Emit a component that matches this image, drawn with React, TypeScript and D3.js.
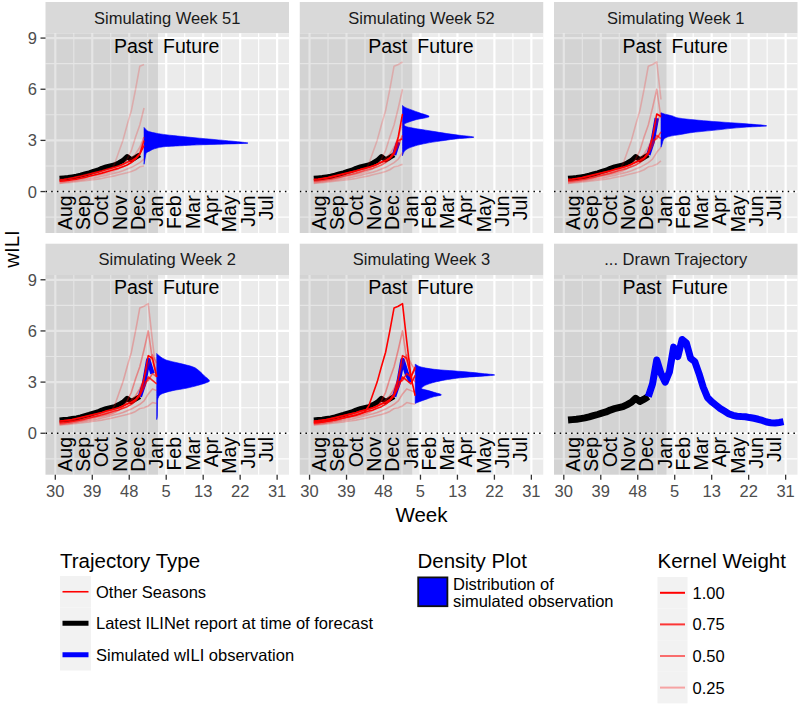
import React from "react";
import * as d3 from "d3";

const FONT = "'Liberation Sans', Arial, Helvetica, sans-serif";

// ---------------- data ----------------
const panelTitles = [
  "Simulating Week 51",
  "Simulating Week 52",
  "Simulating Week 1",
  "Simulating Week 2",
  "Simulating Week 3",
  "... Drawn Trajectory",
];
// season-week index (week 30 = 0) of the simulated week in each panel
const simulatedWeekIdx = [21, 22, 23, 24, 25];
const pastFutureSplit = 24.3;

const weekTickPositions = [0, 8.75, 17.5, 26.25, 35, 43.75, 52.5];
const weekTickLabels = ["30", "39", "48", "5", "13", "22", "31"];
const yTickValues = [0, 3, 6, 9];
const yMinorValues = [-1.5, 1.5, 4.5, 7.5];
const monthLabels = ["Aug", "Sep", "Oct", "Nov", "Dec", "Jan", "Feb", "Mar", "Apr", "May", "Jun", "Jul"];
const monthPositions = [2.2, 6.5, 10.9, 15.2, 19.5, 23.9, 28.2, 32.5, 36.8, 41.2, 45.5, 49.8];

// latest ILINet report (season-week idx 1..20)
const ilinetStartIdx = 1;
const ilinetValues = [0.78, 0.8, 0.82, 0.86, 0.9, 0.96, 1.03, 1.1, 1.18, 1.25, 1.36, 1.44, 1.5, 1.56, 1.68, 1.82, 2.05, 1.86, 2.0, 2.15];

// drawn (simulated) trajectory, idx 20..52
const trajectoryStartIdx = 20;
const trajectoryValues = [2.15, 2.9, 4.3, 3.5, 3.0, 3.6, 5.05, 4.5, 5.5, 5.3, 4.4, 4.2, 3.5, 2.7, 2.1, 1.85, 1.65, 1.45, 1.3, 1.15, 1.05, 1.0, 0.98, 0.97, 0.92, 0.88, 0.82, 0.75, 0.66, 0.62, 0.6, 0.63, 0.68];

// other seasons, idx 1..25
const seasonStartIdx = 1;
const season1 = [0.62, 0.64, 0.66, 0.7, 0.74, 0.78, 0.84, 0.9, 0.95, 1.0, 1.06, 1.14, 1.24, 1.6, 2.3, 3.0, 3.9, 4.75, 6.0, 7.35, 7.45, 7.6, 5.4, 3.3, 2.2];
const season2 = [0.55, 0.58, 0.6, 0.64, 0.68, 0.72, 0.78, 0.84, 0.9, 0.95, 1.0, 1.06, 1.12, 1.22, 1.35, 1.55, 1.9, 2.4, 3.2, 3.9, 4.9, 6.0, 4.3, 3.4, 3.0];
const season3 = [0.72, 0.74, 0.77, 0.8, 0.86, 0.92, 0.98, 1.04, 1.1, 1.16, 1.22, 1.3, 1.36, 1.42, 1.5, 1.6, 1.72, 1.82, 1.98, 2.3, 3.2, 4.55, 4.4, 3.3, 3.9];
const season4 = [0.6, 0.62, 0.65, 0.69, 0.73, 0.78, 0.83, 0.9, 0.96, 1.02, 1.08, 1.15, 1.22, 1.3, 1.36, 1.46, 1.56, 1.7, 1.9, 2.2, 2.7, 3.3, 3.1, 2.9, 3.4];
const season5 = [0.5, 0.53, 0.56, 0.6, 0.63, 0.67, 0.71, 0.75, 0.8, 0.84, 0.9, 0.95, 1.02, 1.08, 1.14, 1.22, 1.32, 1.42, 1.55, 1.7, 1.9, 2.3, 2.6, 2.5, 2.4];
const season6 = [0.48, 0.5, 0.52, 0.55, 0.58, 0.6, 0.63, 0.66, 0.7, 0.73, 0.77, 0.82, 0.87, 0.92, 0.98, 1.04, 1.1, 1.18, 1.28, 1.45, 1.5, 1.6, 1.8, 1.75, 1.7];
const season7 = [0.68, 0.71, 0.75, 0.8, 0.85, 0.9, 0.96, 1.02, 1.08, 1.14, 1.2, 1.28, 1.35, 1.42, 1.5, 1.6, 1.72, 1.8, 1.95, 2.2, 3.0, 3.1, 3.5, 3.3, 3.8];
const season8 = [0.64, 0.67, 0.7, 0.74, 0.78, 0.84, 0.9, 0.96, 1.02, 1.1, 1.16, 1.22, 1.3, 1.38, 1.48, 1.6, 1.76, 1.94, 2.2, 2.6, 3.2, 4.0, 4.6, 4.1, 3.7];
const otherSeasons = [season1, season2, season3, season4, season5, season6, season7, season8];

// kernel weights of each season per panel
const weightsWeek51 = [0.1, 0.12, 0.2, 1.0, 0.15, 0.12, 0.9, 0.15];
const weightsWeek52 = [0.1, 0.12, 1.0, 0.5, 0.15, 0.12, 0.8, 0.2];
const weightsWeek1 = [0.12, 0.2, 1.0, 0.6, 0.15, 0.12, 0.6, 0.2];
const weightsWeek2 = [0.15, 0.3, 1.0, 0.8, 0.2, 0.15, 0.5, 0.3];
const weightsWeek3 = [1.0, 0.3, 0.9, 0.9, 0.2, 0.15, 0.8, 0.3];
const kernelWeights = [weightsWeek51, weightsWeek52, weightsWeek1, weightsWeek2, weightsWeek3];

// density of the simulated observation (wILI value, density in weeks of width)
const density51Y = [1.6, 2.0, 2.25, 2.4, 2.54, 2.64, 2.69, 2.74, 2.79, 2.84, 2.9, 3.0, 3.13, 3.23, 3.33, 3.42, 3.5, 3.6, 3.68, 3.76];
const density51W = [0, 0.3, 0.5, 1.5, 2.9, 5.2, 9, 13.1, 20, 24.6, 23, 19, 13.1, 9, 5.2, 2.9, 1.4, 0.6, 0.3, 0];
const density52Y = [2.1, 2.3, 2.45, 2.64, 2.8, 2.93, 3.0, 3.1, 3.19, 3.3, 3.4, 3.5, 3.6, 3.7, 3.8, 3.9, 3.97, 4.05, 4.2, 4.4, 4.6, 4.8, 4.95, 5.05];
const density52W = [0, 0.3, 0.8, 2.5, 5, 8, 10, 13, 16.9, 13.5, 10.5, 8, 5.5, 3, 1.0, 0.4, 0.5, 1.2, 3.0, 6.3, 4.2, 2.0, 0.5, 0];
const density1Y = [2.6, 2.8, 3.04, 3.24, 3.34, 3.45, 3.59, 3.78, 3.85, 3.97, 4.11, 4.3, 4.45, 4.55, 4.62];
const density1W = [0, 0.3, 0.6, 2.1, 4.5, 7, 12.4, 20.3, 25, 20.3, 12.4, 4.5, 2.5, 0.8, 0];
const density2Y = [0.8, 1.0, 1.9, 2.16, 2.33, 2.5, 2.64, 2.8, 2.95, 3.06, 3.15, 3.36, 3.65, 3.9, 4.1, 4.3, 4.4, 4.5, 4.6, 4.68];
const density2W = [0, 0.15, 0.2, 0.5, 1.4, 3.8, 7, 9.6, 11.6, 12.5, 12.3, 11.3, 10.1, 8.5, 5.4, 2.2, 1.4, 0.8, 0.3, 0];
const density3Y = [1.75, 1.85, 2.0, 2.15, 2.25, 2.4, 2.53, 2.62, 2.74, 2.9, 3.02, 3.1, 3.2, 3.3, 3.35, 3.42, 3.5, 3.6, 3.75, 3.85, 3.9, 3.98, 4.05];
const density3W = [0, 1.0, 2.7, 4.5, 6.2, 4.5, 2.7, 1.5, 1.9, 3.3, 5, 6.5, 9, 12.9, 16, 18.8, 16, 12, 4.5, 2.0, 1.2, 0.5, 0];
const densityYs = [density51Y, density52Y, density1Y, density2Y, density3Y];
const densityWs = [density51W, density52W, density1W, density2W, density3W];

const kernelLegendValues = [1.0, 0.75, 0.5, 0.25];
const kernelLegendLabels = ["1.00", "0.75", "0.50", "0.25"];

// ---------------- layout ----------------
const PANEL_W = 243.5;
const PANEL_H = 199.7;
const STRIP_H = 31.3;
const PANEL_LEFT = 45.5;
const COL_STEP = 254.25;
const ROW_TOP = [2, 243.7];
const X_DOMAIN = [-2.32, 55.31];
const Y_DOMAIN = [-2.43, 9.28];

const alphaOf = (w: number) => 0.1 + 0.9 * w;

type Pt = [number, number];
const toPoints = (start: number, vals: number[], upto?: number): Pt[] => {
  const pts: Pt[] = vals.map((v, i) => [start + i, v] as Pt);
  return upto === undefined ? pts : pts.filter((p) => p[0] <= upto);
};

export default function App() {
  const xs = d3.scaleLinear().domain(X_DOMAIN).range([0, PANEL_W]);
  const ys = d3.scaleLinear().domain(Y_DOMAIN).range([PANEL_H, 0]);
  const line = d3
    .line<Pt>()
    .x((d) => xs(d[0]))
    .y((d) => ys(d[1]));

  const xMinor = weekTickPositions.slice(1).map((p, i) => (p + weekTickPositions[i]) / 2);
  const rightEdge = PANEL_LEFT + 2 * COL_STEP + PANEL_W;

  const panels = panelTitles.map((title, p) => {
    const col = p % 3;
    const row = Math.floor(p / 3);
    const left = PANEL_LEFT + col * COL_STEP;
    const stripTop = ROW_TOP[row];
    const top = stripTop + STRIP_H;
    const isTraj = p === 5;
    const sim = isTraj ? null : simulatedWeekIdx[p];

    let densityPath: string | null = null;
    if (sim !== null) {
      const dys = densityYs[p];
      const dws = densityWs[p];
      const pts = dys.map((y, i) => ({ y, w: dws[i] }));
      const area = d3
        .area<{ y: number; w: number }>()
        .y((d) => ys(d.y))
        .x0(xs(sim))
        .x1((d) => xs(sim + d.w))
        .curve(d3.curveMonotoneY);
      densityPath = area(pts);
    }

    const seasonOrder = sim === null ? [] : d3.range(otherSeasons.length).sort((a, b) => kernelWeights[p][a] - kernelWeights[p][b]);

    const blueUpto = sim === null ? 52 : sim - 1;
    const bluePts = toPoints(trajectoryStartIdx, trajectoryValues, blueUpto);

    return (
      <g key={p}>
        {/* strip */}
        <rect x={left} y={stripTop} width={PANEL_W} height={STRIP_H} fill="#D9D9D9" />
        <text x={left + PANEL_W / 2} y={stripTop + STRIP_H / 2 + 6} textAnchor="middle" fontSize={16.5} fill="#1A1A1A" fontFamily={FONT}>
          {title}
        </text>
        <g transform={`translate(${left},${top})`}>
          <clipPath id={`clip${p}`}>
            <rect x={0} y={0} width={PANEL_W} height={PANEL_H} />
          </clipPath>
          <rect x={0} y={0} width={PANEL_W} height={PANEL_H} fill="#EBEBEB" />
          {yMinorValues.map((v) => (
            <line key={"ym" + v} x1={0} x2={PANEL_W} y1={ys(v)} y2={ys(v)} stroke="#fff" strokeWidth={1.1} />
          ))}
          {xMinor.map((v) => (
            <line key={"xm" + v} y1={0} y2={PANEL_H} x1={xs(v)} x2={xs(v)} stroke="#fff" strokeWidth={1.1} />
          ))}
          {yTickValues.map((v) => (
            <line key={"yM" + v} x1={0} x2={PANEL_W} y1={ys(v)} y2={ys(v)} stroke="#fff" strokeWidth={2.2} />
          ))}
          {weekTickPositions.map((v) => (
            <line key={"xM" + v} y1={0} y2={PANEL_H} x1={xs(v)} x2={xs(v)} stroke="#fff" strokeWidth={2.2} />
          ))}
          <rect x={0} y={0} width={xs(pastFutureSplit)} height={PANEL_H} fill="#000" fillOpacity={0.1} />
          <g clipPath={`url(#clip${p})`}>
            {monthLabels.map((m, i) => (
              <text
                key={m}
                transform={`translate(${xs(monthPositions[i])},${ys(-0.22)}) rotate(-90)`}
                textAnchor="end"
                dominantBaseline="central"
                fontSize={19.5}
                fill="#000"
                fontFamily={FONT}
              >
                {m}
              </text>
            ))}
            <line x1={0} x2={PANEL_W} y1={ys(0)} y2={ys(0)} stroke="#000" strokeWidth={1.5} strokeDasharray="1.5 4.2" />
            <path
              d={line(toPoints(ilinetStartIdx, ilinetValues)) || ""}
              fill="none"
              stroke="#000"
              strokeWidth={isTraj ? 7 : 5}
              strokeLinejoin="round"
            />
            {bluePts.length > 1 && (
              <path d={line(bluePts) || ""} fill="none" stroke="#0000FF" strokeWidth={isTraj ? 7 : 4.5} strokeLinejoin="round" />
            )}
            {densityPath && <path d={densityPath} fill="#0000FF" stroke="#0000FF" strokeWidth={0.6} />}
            {sim !== null &&
              seasonOrder.map((s) => (
                <path
                  key={"s" + s}
                  d={line(toPoints(seasonStartIdx, otherSeasons[s], sim)) || ""}
                  fill="none"
                  stroke="#FF0000"
                  strokeOpacity={alphaOf(kernelWeights[p][s])}
                  strokeWidth={1.6}
                  strokeLinejoin="round"
                />
              ))}
            <text x={xs(pastFutureSplit) - 5} y={ys(9) + 14.5} textAnchor="end" fontSize={19.5} fill="#000" fontFamily={FONT}>
              Past
            </text>
            <text x={xs(pastFutureSplit) + 5} y={ys(9) + 14.5} textAnchor="start" fontSize={19.5} fill="#000" fontFamily={FONT}>
              Future
            </text>
          </g>
          {/* y axis */}
          {col === 0 &&
            yTickValues.map((v) => (
              <g key={"yt" + v}>
                <line x1={-5} x2={0} y1={ys(v)} y2={ys(v)} stroke="#333" strokeWidth={1.3} />
                <text x={-8.5} y={ys(v) + 6} textAnchor="end" fontSize={16.5} fill="#4D4D4D" fontFamily={FONT}>
                  {v}
                </text>
              </g>
            ))}
          {/* x axis */}
          {row === 1 &&
            weekTickPositions.map((v, i) => (
              <g key={"xt" + i}>
                <line x1={xs(v)} x2={xs(v)} y1={PANEL_H} y2={PANEL_H + 5} stroke="#333" strokeWidth={1.3} />
                <text x={xs(v)} y={PANEL_H + 21.8} textAnchor="middle" fontSize={16.5} fill="#4D4D4D" fontFamily={FONT}>
                  {weekTickLabels[i]}
                </text>
              </g>
            ))}
        </g>
      </g>
    );
  });

  const trajKeys = [
    { label: "Other Seasons", color: "#FF0000", width: 1.6 },
    { label: "Latest ILINet report at time of forecast", color: "#000", width: 5 },
    { label: "Simulated wILI observation", color: "#0000FF", width: 5 },
  ];

  return (
    <svg width={800} height={706} style={{ position: "absolute", left: 0, top: 0, display: "block" }} fontFamily={FONT}>
      <rect x={0} y={0} width={800} height={706} fill="#fff" />
      {panels}
      {/* axis titles */}
      <text x={(PANEL_LEFT + rightEdge) / 2} y={521.5} textAnchor="middle" fontSize={20.5} fill="#000">
        Week
      </text>
      <text transform={`translate(19,249) rotate(-90)`} textAnchor="middle" fontSize={20.5} fill="#000">
        wILI
      </text>

      {/* legend: trajectory type */}
      <text x={60} y={568} fontSize={20.5} fill="#000">
        Trajectory Type
      </text>
      {trajKeys.map((k, i) => {
        const ky = 576 + i * 31.5;
        return (
          <g key={k.label}>
            <rect x={60} y={ky} width={31} height={31.5} fill="#F2F2F2" />
            <line x1={62.5} x2={88.5} y1={ky + 15.75} y2={ky + 15.75} stroke={k.color} strokeWidth={k.width} />
            <text x={96} y={ky + 15.75 + 6} fontSize={16.5} fill="#000">
              {k.label}
            </text>
          </g>
        );
      })}

      {/* legend: density plot */}
      <text x={417.5} y={568} fontSize={20.5} fill="#000">
        Density Plot
      </text>
      <rect x={418.2} y={577.4} width={29.2} height={28.8} fill="#0000FF" stroke="#111" strokeWidth={1.8} />
      <text x={453} y={590} fontSize={16.5} fill="#000">
        Distribution of
      </text>
      <text x={453} y={606.5} fontSize={16.5} fill="#000">
        simulated observation
      </text>

      {/* legend: kernel weight */}
      <text x={657.5} y={568} fontSize={20.5} fill="#000">
        Kernel Weight
      </text>
      {kernelLegendValues.map((w, i) => {
        const ky = 577 + i * 31.6;
        return (
          <g key={"kw" + i}>
            <rect x={657.5} y={ky} width={30} height={31.6} fill="#F2F2F2" />
            <line x1={660} x2={685} y1={ky + 15.8} y2={ky + 15.8} stroke="#FF0000" strokeOpacity={alphaOf(w)} strokeWidth={2} />
            <text x={692.5} y={ky + 15.8 + 6} fontSize={16.5} fill="#000">
              {kernelLegendLabels[i]}
            </text>
          </g>
        );
      })}
    </svg>
  );
}
